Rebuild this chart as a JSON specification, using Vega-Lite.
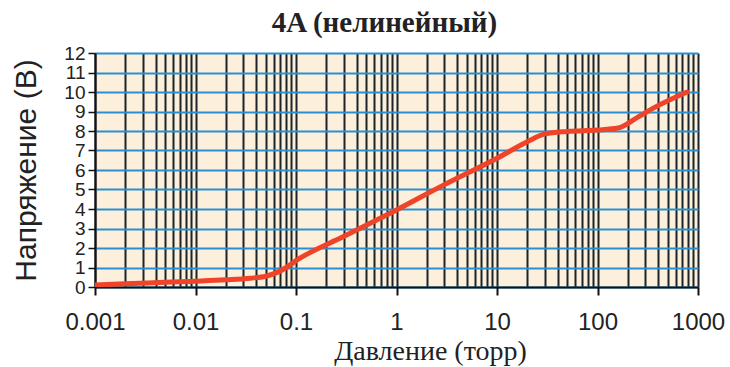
{
  "$schema": "https://vega.github.io/schema/vega-lite/v6.json",
  "autosize": {"type": "none"},
  "padding": {"left": 95, "top": 53, "right": 32, "bottom": 80},
  "width": 603,
  "height": 234,
  "background": "white",
  "title": {
    "text": "4A (нелинейный)",
    "font": "Liberation Serif",
    "fontWeight": "bold",
    "fontSize": 29,
    "color": "#222222",
    "anchor": "middle",
    "offset": 6,
    "dx": -12
  },
  "config": {
    "view": {"fill": "#fcefdc", "stroke": null}
  },
  "data": {
    "values": [
      {"p": 0.001, "v": 0.1},
      {"p": 0.002, "v": 0.17},
      {"p": 0.005, "v": 0.24},
      {"p": 0.01, "v": 0.3},
      {"p": 0.02, "v": 0.37},
      {"p": 0.035, "v": 0.45},
      {"p": 0.05, "v": 0.55},
      {"p": 0.065, "v": 0.75},
      {"p": 0.08, "v": 1.0},
      {"p": 0.1, "v": 1.35},
      {"p": 0.3, "v": 2.6},
      {"p": 1, "v": 3.95},
      {"p": 3, "v": 5.25},
      {"p": 10, "v": 6.6},
      {"p": 20, "v": 7.45},
      {"p": 30, "v": 7.85},
      {"p": 50, "v": 7.98},
      {"p": 100, "v": 8.05},
      {"p": 160, "v": 8.15},
      {"p": 250, "v": 8.7},
      {"p": 400, "v": 9.3},
      {"p": 780, "v": 10.0}
    ]
  },
  "mark": {"type": "line", "color": "#f0442a", "strokeWidth": 5, "interpolate": "monotone", "strokeCap": "round", "clip": true},
  "encoding": {
    "x": {
      "field": "p",
      "type": "quantitative",
      "scale": {"type": "log", "domain": [0.001, 1000], "nice": false},
      "axis": {
        "title": "Давление (торр)",
        "titleFont": "Liberation Serif",
        "titleFontSize": 28,
        "titleFontWeight": "normal",
        "titleColor": "#222222",
        "titlePadding": 3,
        "titleX": 335,
        "values": [0.001,0.002,0.003,0.004,0.005,0.006,0.007,0.008,0.009,
                   0.01,0.02,0.03,0.04,0.05,0.06,0.07,0.08,0.09,
                   0.1,0.2,0.3,0.4,0.5,0.6,0.7,0.8,0.9,
                   1,2,3,4,5,6,7,8,9,
                   10,20,30,40,50,60,70,80,90,
                   100,200,300,400,500,600,700,800,900,1000],
        "labelExpr": "indexof([0.001,0.01,0.1,1,10,100,1000], datum.value) >= 0 ? datum.label : ''",
        "format": "~g",
        "labelOverlap": false,
        "labelFlush": false,
        "labelFont": "Liberation Sans",
        "labelFontSize": 24,
        "labelColor": "#222222",
        "labelPadding": 15,
        "grid": true,
        "gridColor": "#1b2428",
        "gridWidth": 2,
        "gridOpacity": 1,
        "domainColor": "#111111",
        "domainWidth": 2,
        "tickColor": "#111111",
        "tickWidth": 2,
        "tickSize": 8,
        "tickOpacity": {"condition": {"test": "indexof([0.001,0.01,0.1,1,10,100,1000], datum.value) >= 0", "value": 1}, "value": 0}
      }
    },
    "y": {
      "field": "v",
      "type": "quantitative",
      "scale": {"domain": [0, 12], "nice": false},
      "axis": {
        "title": "Напряжение (В)",
        "titleFont": "Liberation Sans",
        "titleFontSize": 30,
        "titleFontWeight": "normal",
        "titleColor": "#222222",
        "titlePadding": 22,
        "values": [0,1,2,3,4,5,6,7,8,9,10,11,12],
        "labelOverlap": false,
        "labelFont": "Liberation Sans",
        "labelFontSize": 19,
        "labelColor": "#222222",
        "labelPadding": 3,
        "grid": true,
        "gridColor": "#2a8fd2",
        "gridWidth": 2,
        "gridOpacity": 1,
        "domainColor": "#111111",
        "domainWidth": 2,
        "tickColor": "#111111",
        "tickWidth": 1.5,
        "tickSize": 7
      }
    }
  }
}
